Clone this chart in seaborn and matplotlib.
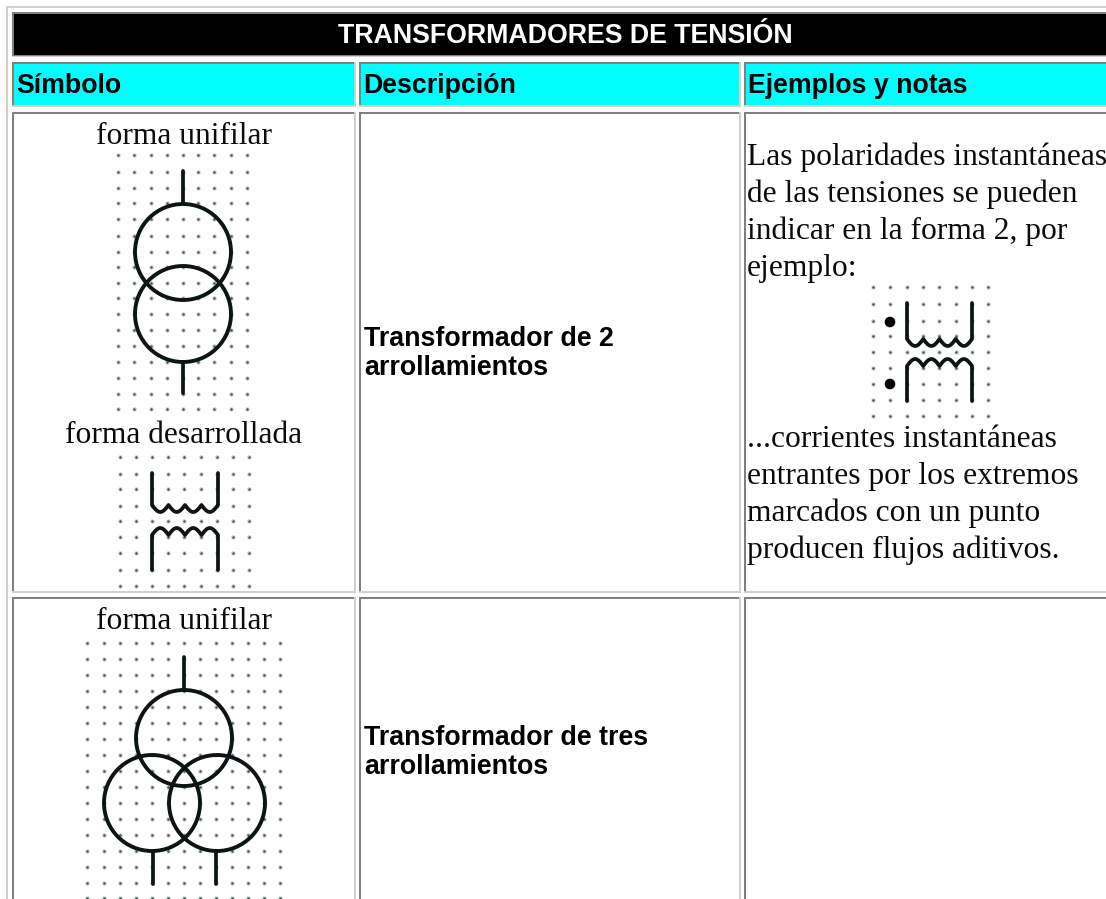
import numpy as np
import pandas as pd
import matplotlib
matplotlib.use("Agg")
import matplotlib.pyplot as plt
from matplotlib.patches import Rectangle, Circle
import seaborn as sns

W, H = 1106, 899
CREAM, GRAY, CYAN = "#d4d0c8", "#808080", "#00ffff"
INK = "#0c1414"

title = "TRANSFORMADORES DE TENSIÓN"
headers = ["Símbolo", "Descripción", "Ejemplos y notas"]
descriptions = [["Transformador de 2", "arrollamientos"], ["Transformador de tres", "arrollamientos"]]
notes_top = ["Las polaridades instantáneas", "de las tensiones se pueden", "indicar en la forma 2, por", "ejemplo:"]
notes_bottom = ["...corrientes instantáneas", "entrantes por los extremos", "marcados con un punto", "producen flujos aditivos."]

col_x = [(12, 356), (359, 741), (744, 1112)]
row_y = [(112, 593), (597, 906)]

grid_a_x = [118, 134, 151, 167, 183, 198, 214, 231, 247]
grid_a_y = [155, 172, 188, 203, 219, 236, 252, 267, 283, 298, 314, 330, 346, 362, 378, 394, 409]
grid_b_x = [120, 136, 152, 168, 184, 201, 217, 233, 249]
grid_b_y = [457, 474, 489, 506, 521, 537, 553, 570, 586]
grid_c_x = [87, 104, 120, 136, 152, 168, 184, 200, 216, 232, 248, 264, 280]
grid_c_y = [643, 659, 675, 691, 707, 723, 739, 755, 771, 787, 803, 819, 835, 851, 867, 883, 898]
grid_d_x = [873, 890, 907, 923, 939, 956, 972, 988]
grid_d_y = [287, 304, 321, 336, 352, 368, 384, 400, 416]

circles = [(183, 252), (183, 314), (184, 738), (152, 803), (217, 803)]
stems = [(183, 171, 203), (183, 362, 393), (184, 657, 690), (153, 851, 884), (216, 851, 884)]
polarity_dots = [(890, 322), (890, 384)]

sns.set_theme(style="white")
fig = plt.figure(figsize=(W / 100, H / 100), dpi=100, facecolor="white")
ax = fig.add_axes([0, 0, 1, 1])
ax.set_xlim(0, W)
ax.set_ylim(H, 0)
ax.axis("off")


def rect(x0, y0, x1, y1, color, z=1):
    ax.add_patch(Rectangle((x0, y0), x1 - x0, y1 - y0, facecolor=color, edgecolor="none", zorder=z))


def cell(x0, y0, x1, y1, fill="white"):
    rect(x0, y0, x1, y1, CREAM)
    rect(x0, y0, x1 - 2, y1 - 2, GRAY)
    rect(x0 + 2, y0 + 2, x1 - 2, y1 - 2, fill)


def dots(xs, ys):
    gx, gy = np.meshgrid(xs, ys)
    frame = pd.DataFrame({"x": gx.ravel(), "y": gy.ravel()})
    sns.scatterplot(data=frame, x="x", y="y", ax=ax, s=11, color="#a8b2b2", linewidth=0, alpha=0.55, zorder=3, legend=False)
    sns.scatterplot(data=frame, x="x", y="y", ax=ax, s=3.2, color="#4a5555", linewidth=0, zorder=3, legend=False)


def stroke(xs, ys, lw=2.7):
    sns.lineplot(x=xs, y=ys, ax=ax, sort=False, estimator=None, color=INK, linewidth=lw,
                 solid_capstyle="round", solid_joinstyle="round", zorder=4, legend=False)


def coil(left, right, top, trough, sag, sign):
    # legs joined by four scallops; sign=1 opens upward, sign=-1 opens downward
    xs = [left]
    ys = [top]
    steps = np.linspace(0, 1, 15)
    width = (right - left) / 4
    for k in range(4):
        xs.extend(left + width * (k + steps))
        ys.extend(trough - sign * sag * (1 - np.sin(np.pi * steps)))
    xs.append(right)
    ys.append(top)
    stroke(np.array(xs), np.array(ys))


# table frame
rect(6, 6, W, 8, CREAM)
rect(6, 6, 8, H, CREAM)

cell(12, 12, W + 4, 57, "black")
rect(12, 55, W, 56, GRAY, 2)
for (x0, x1) in col_x:
    cell(x0, 62, x1, 107, CYAN)
for (y0, y1) in row_y:
    for (x0, x1) in col_x:
        cell(x0, y0, x1, y1)

ax.set_xlim(0, W)
ax.set_ylim(H, 0)

BOLD = dict(family="Liberation Sans", weight="bold", va="baseline")
SERIF = dict(family="Liberation Serif", color="#0a0a0a", va="baseline", fontsize=22.7)

ax.text(565.5, 43, title, color="white", ha="center", fontsize=19.3, **BOLD)
for (x0, _), label in zip(col_x, headers):
    ax.text(x0 + 4, 93, label, color="black", ha="left", fontsize=19.3, **BOLD)

for lines, y in zip(descriptions, (346, 745)):
    for i, line in enumerate(lines):
        ax.text(364, y + i * 29, line, color="black", ha="left", fontsize=19.3, **BOLD)

for text, y in (("forma unifilar", 144), ("forma desarrollada", 443), ("forma unifilar", 629)):
    ax.text(184, y, text, ha="center", **SERIF)

for i, line in enumerate(notes_top):
    ax.text(747, 165 + i * 37, line, ha="left", clip_on=True, **SERIF)
for i, line in enumerate(notes_bottom):
    ax.text(747, 447 + i * 37, line, ha="left", **SERIF)

# symbols
for xs, ys in ((grid_a_x, grid_a_y), (grid_b_x, grid_b_y), (grid_c_x, grid_c_y), (grid_d_x, grid_d_y)):
    dots(xs, ys)
for cx, cy in circles:
    ax.add_patch(Circle((cx, cy), 48, fill=False, edgecolor=INK, linewidth=2.8, zorder=4))
for x, y0, y1 in stems:
    stroke(np.array([x, x]), np.array([y0, y1]))
coil(152, 218, 473, 512, 7, 1)
coil(152, 218, 570, 528, 7, -1)
coil(907, 972, 303, 346, 7, 1)
coil(907, 972, 401, 359, 7, -1)
for x, y in polarity_dots:
    ax.add_patch(Circle((x, y), 4.6, color="black", zorder=5))

ax.set_xlabel("")
ax.set_ylabel("")
fig.savefig("out.png", dpi=100, facecolor="white")
